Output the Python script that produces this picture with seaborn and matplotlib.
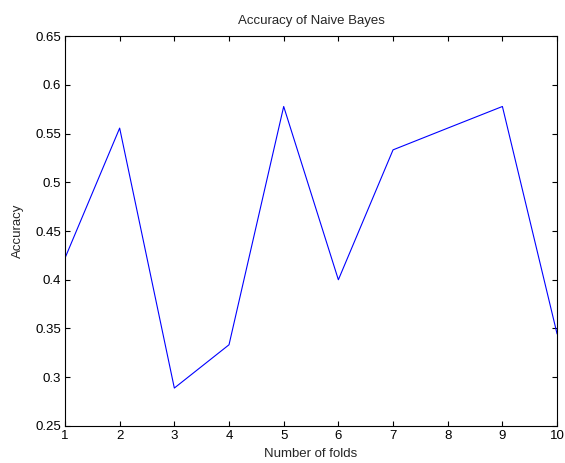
import numpy as np
import matplotlib
matplotlib.use('Agg')
import matplotlib.pyplot as plt
import seaborn as sns

folds = [1, 2, 3, 4, 5, 6, 7, 8, 9, 10]
accuracy = [0.4222, 0.5556, 0.2889, 0.3333, 0.5778, 0.4000, 0.5333, 0.5556, 0.5778, 0.3444]
y_ticks = [0.25, 0.3, 0.35, 0.4, 0.45, 0.5, 0.55, 0.6, 0.65]
y_labels = ['0.25', '0.3', '0.35', '0.4', '0.45', '0.5', '0.55', '0.6', '0.65']

sns.set_style('white')
plt.rcParams['font.family'] = ['Liberation Sans', 'DejaVu Sans']
plt.rcParams['font.size'] = 9.5

fig = plt.figure(figsize=(5.65, 4.63), dpi=100)
ax = fig.add_axes([0.115, 0.080, 0.871, 0.842])

sns.lineplot(x=folds, y=accuracy, color='#0000ff', linewidth=0.8, ax=ax)

ax.set_xlim(1, 10)
ax.set_ylim(0.25, 0.65)
ax.set_xticks(folds)
ax.set_yticks(y_ticks)
ax.set_yticklabels(y_labels)
ax.tick_params(direction='in', length=3.5, width=0.8, top=True, right=True,
               bottom=True, left=True, labelsize=9.5, pad=3, colors='black')
for spine in ax.spines.values():
    spine.set_color('black')
    spine.set_linewidth(0.8)

ax.set_xlabel('Number of folds', fontsize=9.5, labelpad=4)
ax.set_ylabel('Accuracy', fontsize=9.5, labelpad=8)
ax.set_title('Accuracy of Naive Bayes', fontsize=9.5, pad=9)

fig.savefig('out.png', dpi=100, facecolor='white')
